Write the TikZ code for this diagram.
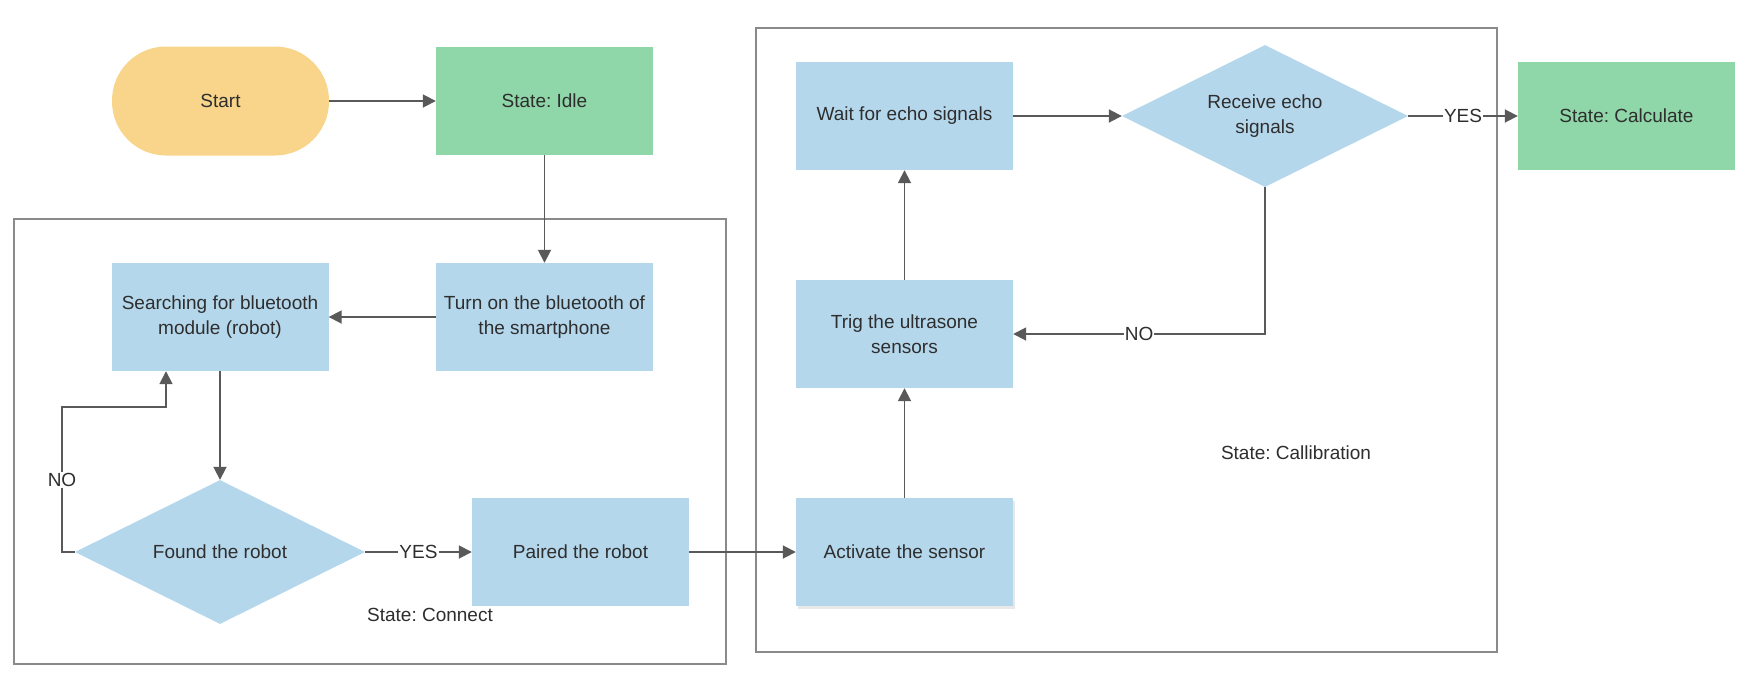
\documentclass[tikz,border=0pt]{standalone}
\usepackage{fontspec}
\setmainfont{Liberation Sans}
\usetikzlibrary{shapes.geometric,arrows.meta,shadows}
\definecolor{boxblue}{HTML}{B5D7EC}
\definecolor{boxgreen}{HTML}{8FD6A8}
\definecolor{startyellow}{HTML}{F9D58C}
\definecolor{linegray}{HTML}{595959}
\definecolor{framegray}{HTML}{8A8A8A}
\definecolor{txtcol}{HTML}{2E2E2E}
\frenchspacing
\begin{document}
\begin{tikzpicture}[x=1pt,y=-1pt,
  every node/.style={font=\fontsize{19}{25}\selectfont, text=txtcol},
  proc/.style={rectangle, fill=boxblue, draw=none, minimum width=217pt, minimum height=108pt, inner sep=0pt, align=center},
  statebox/.style={proc, fill=boxgreen},
  startbox/.style={rectangle, fill=startyellow, rounded corners=54pt, minimum width=217pt, minimum height=109pt, inner sep=0pt},
  decision/.style={diamond, fill=boxblue, inner sep=0pt, aspect=2, align=center},
  conn/.style={draw=linegray, line width=1.8pt, -{Triangle[length=13pt,width=13pt]}},
  frame/.style={draw=framegray, line width=1.8pt},
  lbl/.style={fill=white, inner sep=1pt}
]
\useasboundingbox (0,0) rectangle (1750,694);
\fill[white] (0,0) rectangle (1750,694);

% frames
\draw[frame] (14,219) rectangle (726,664);
\draw[frame] (756,28) rectangle (1497,652);
\node (lconnect) at (430,615) {State: Connect};
\node (lcalib) at (1296,453) {State: Callibration};

% nodes
\node[startbox] (start) at (220.5,101) {Start};
\node[statebox] (idle) at (544.5,101) {State: Idle};
\node[proc] (search) at (220,317) {Searching for bluetooth\\module (robot)};
\node[proc] (turn) at (544.5,317) {Turn on the bluetooth of\\the smartphone};
\node[decision, minimum width=290pt, minimum height=144pt] (found) at (220,552) {Found the robot};
\node[proc] (paired) at (580.5,552) {Paired the robot};
\node[proc] (wait) at (904.5,116) {Wait for echo signals};
\node[decision, minimum width=286pt, minimum height=142pt] (receive) at (1265,116) {Receive echo\\signals};
\node[statebox] (calc) at (1626.5,116) {State: Calculate};
\node[proc] (trig) at (904.5,334) {Trig the ultrasone\\sensors};
\node[proc, drop shadow={shadow xshift=2pt, shadow yshift=-3pt, opacity=0.18}] (activate) at (904.5,552) {Activate the sensor};

% connectors
\draw[conn] (start.east) -- (idle.west);
\draw[conn] (idle.south) -- (turn.north);
\draw[conn] (turn.west) -- (search.east);
\draw[conn] (search.south) -- (found.north);
\coordinate (noA) at (62,407);
\coordinate (noB) at (166,407);
\draw[conn] (found.west) -| (noA) -- (noB) -- (noB |- search.south);
\node[lbl] (nolbl) at (62,480) {NO};
\draw[conn] (found.east) -- node[lbl] (yes1) {YES} (paired.west);
\draw[conn] (paired.east) -- (activate.west);
\draw[conn] (activate.north) -- (trig.south);
\draw[conn] (trig.north) -- (wait.south);
\draw[conn] (wait.east) -- (receive.west);
\draw[conn] (receive.east) -- node[lbl] (yes2) {YES} (calc.west);
\draw[conn] (receive.south) |- node[lbl, pos=0.75] (no2) {NO} (trig.east);
\end{tikzpicture}
\end{document}
